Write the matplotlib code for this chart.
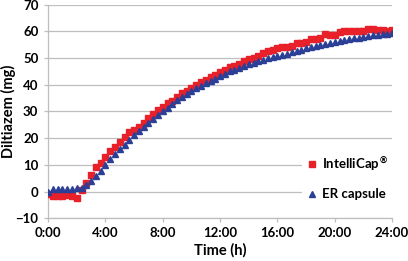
import matplotlib
matplotlib.use("Agg")
import matplotlib.pyplot as plt
from matplotlib.ticker import FuncFormatter

# sampling times (minutes)
minutes = [0, 20, 40, 60, 80, 100, 120, 140, 160, 180, 200, 220, 240, 260, 280,
           300, 320, 340, 360, 380, 400, 420, 440, 460, 480, 500, 520, 540, 560,
           580, 600, 620, 640, 660, 680, 700, 720, 740, 760, 780, 800, 820, 840,
           860, 880, 900, 920, 940, 960, 980, 1000, 1020, 1040, 1060, 1080, 1100,
           1120, 1140, 1160, 1180, 1200, 1220, 1240, 1260, 1280, 1300, 1320, 1340,
           1360, 1380, 1400, 1420, 1440]

intellicap = [-1.0, -1.5, -1.6, -1.5, -1.2, -1.6, -2.3, 0.5, 3.2, 6.0, 9.0, 10.8,
              13.0, 15.0, 16.8, 18.6, 20.4, 22.2, 23.2, 24.2, 25.6, 27.6, 29.0,
              30.6, 31.8, 33.0, 34.0, 35.6, 36.8, 37.6, 38.8, 40.0, 41.0, 41.8,
              42.8, 43.8, 44.8, 45.6, 46.5, 47.2, 47.8, 49.0, 49.8, 50.2, 50.6,
              51.8, 52.6, 53.0, 53.6, 54.0, 54.3, 54.6, 55.5, 55.6, 56.0, 57.0,
              57.2, 57.4, 59.0, 58.8, 58.6, 59.8, 60.0, 60.1, 60.2, 60.3, 60.2,
              61.0, 60.8, 60.4, 60.6, 60.0, 60.6]

er_capsule = [0.0, 0.8, 1.0, 1.0, 1.0, 1.0, 1.2, 1.5, 2.5, 4.1, 5.9, 7.8, 10.0,
              12.0, 14.0, 15.9, 17.6, 19.3, 21.0, 22.6, 24.1, 25.7, 27.2, 28.6,
              30.0, 31.4, 32.8, 34.2, 35.3, 36.4, 37.5, 38.6, 39.6, 40.5, 41.4,
              42.3, 43.4, 44.2, 45.0, 45.6, 46.3, 47.0, 47.7, 48.3, 48.9, 49.4,
              49.9, 50.4, 50.9, 51.3, 51.7, 52.2, 52.7, 53.2, 53.7, 54.1, 54.5,
              54.9, 55.3, 55.7, 56.1, 56.5, 56.8, 57.1, 57.4, 57.7, 58.0, 58.3,
              58.6, 58.8, 59.0, 59.2, 59.5]

x_ticks = [0, 240, 480, 720, 960, 1200, 1440]
y_ticks = [-10, 0, 10, 20, 30, 40, 50, 60, 70]

plt.rcParams['font.family'] = ['Lato', 'DejaVu Sans']
plt.rcParams['font.weight'] = 'bold'

fig = plt.figure(figsize=(4.08, 2.61), dpi=100)
ax = fig.add_axes([0.118, 0.164, 0.843, 0.818])

ax.plot(minutes, intellicap, linestyle='none', marker='s', markersize=3.8,
        color='#E8202A', label='IntelliCap$^{\u00ae}$', zorder=3)
ax.plot(minutes, er_capsule, linestyle='none', marker='^', markersize=4.2,
        color='#2B3F96', label='ER capsule', zorder=4)

ax.set_xlim(0, 1440)
ax.set_ylim(-10, 70)
ax.set_xticks(x_ticks)
ax.set_yticks(y_ticks)
ax.xaxis.set_major_formatter(FuncFormatter(lambda v, p: f"{int(v // 60)}:{int(v % 60):02d}"))

ax.grid(axis='y', color='#BEBEBE', linewidth=0.9)
ax.set_axisbelow(True)
for side in ['top', 'right']:
    ax.spines[side].set_visible(False)
for side in ['left', 'bottom']:
    ax.spines[side].set_color('#BEBEBE')
    ax.spines[side].set_linewidth(0.9)
ax.tick_params(axis='both', colors='#BEBEBE', length=3, width=0.9,
               labelcolor='black', labelsize=9.5)
ax.tick_params(axis='y', pad=4)

ax.set_xlabel('Time (h)', fontsize=10.5, fontweight='bold', labelpad=3)
ax.set_ylabel('Diltiazem (mg)', fontsize=10.5, fontweight='bold')
ax.yaxis.set_label_coords(-0.115, 0.5)
ax.yaxis.label.set_va('center')

leg = ax.legend(loc='center', bbox_to_anchor=(0.87, 0.19), frameon=True,
                fontsize=9.5, labelspacing=1.2, handlelength=0.8,
                handletextpad=0.4, borderpad=0.3)
leg.get_frame().set_edgecolor('none')
leg.get_frame().set_facecolor('white')
leg.get_frame().set_alpha(1)

fig.savefig('out.png', dpi=100)
